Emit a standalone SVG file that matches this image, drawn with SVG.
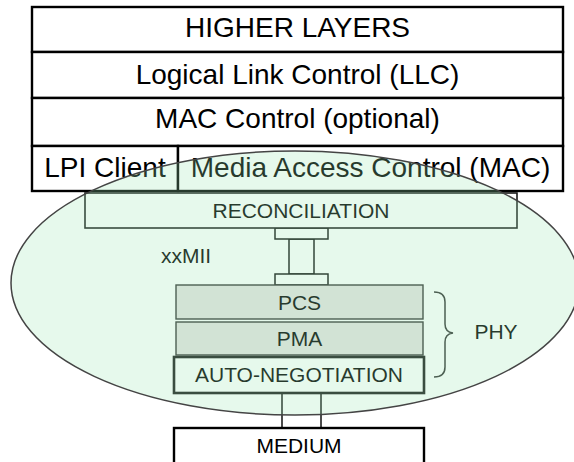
<svg xmlns="http://www.w3.org/2000/svg" width="574" height="462" viewBox="0 0 574 462">
<style>
text{font-family:"Liberation Sans",Arial,sans-serif;fill:#000;text-anchor:middle}
.big{font-size:28px}
.sm{font-size:21px}
.top{fill:#fff;stroke:#000;stroke-width:2.4}
.inner{fill:#fff;stroke:#1a1a1a;stroke-width:1.6}
.grey{fill:#e4e2e1;stroke:#333;stroke-width:1.4}
.conn{fill:#fff;stroke:#111;stroke-width:1.5}
</style>
<rect width="574" height="462" fill="#fff"/>
<g id="higher-layers"><rect class="top" x="32" y="7" width="531" height="45"/><text class="big" x="297.5" y="37">HIGHER LAYERS</text></g>
<g id="llc"><rect class="top" x="32" y="52" width="531" height="46"/><text class="big" x="297.5" y="84">Logical Link Control (LLC)</text></g>
<g id="mac-control"><rect class="top" x="32" y="98" width="531" height="48"/><text class="big" x="297.5" y="128">MAC Control (optional)</text></g>
<g id="lpi-client"><rect class="top" x="32" y="146" width="146" height="45"/><text class="big" x="105" y="177">LPI Client</text></g>
<g id="mac"><rect class="top" x="178" y="146" width="385" height="45"/><text class="big" x="370.5" y="177">Media Access Control (MAC)</text></g>
<g id="connectors">
<rect class="conn" x="289" y="239" width="25" height="35"/>
<rect class="conn" x="275" y="228" width="53" height="11"/>
<rect class="conn" x="275" y="274" width="53" height="11"/>
<rect class="conn" x="282" y="393" width="39" height="35"/>
</g>
<g id="reconciliation"><rect class="inner" x="85" y="193" width="432" height="35"/><text class="sm" x="301" y="218">RECONCILIATION</text></g>
<g id="xxmii"><text class="sm" x="161" y="263" style="text-anchor:start">xxMII</text></g>
<g id="pcs"><rect class="grey" x="176" y="285" width="247" height="34"/><text class="sm" x="299.5" y="310">PCS</text></g>
<g id="pma"><rect class="grey" x="176" y="322" width="247" height="33"/><text class="sm" x="299.5" y="346">PMA</text></g>
<g id="auto-negotiation"><rect class="inner" style="stroke-width:2.6" x="174" y="357" width="250" height="36"/><text class="sm" x="299" y="382">AUTO-NEGOTIATION</text></g>
<g id="phy"><path d="M434,292 Q445,292 445,302 L445,324 Q445,332 453,333 Q445,334 445,342 L445,367 Q445,377 434,377" fill="none" stroke="#333" stroke-width="1.5"/><text class="sm" x="496" y="339">PHY</text></g>
<g id="medium"><rect class="top" x="174" y="428" width="250" height="40"/><text class="sm" x="299" y="453">MEDIUM</text></g>
<g id="phy-region"><ellipse cx="295" cy="283" rx="284" ry="132" fill="rgb(155,231,179)" fill-opacity="0.25" stroke="#444" stroke-width="1.5"/></g>
</svg>
